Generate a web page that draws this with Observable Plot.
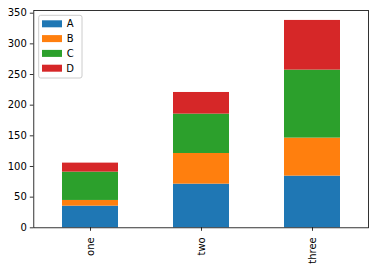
<!DOCTYPE html>
<html>
<head>
<meta charset="utf-8">
<script src="https://cdn.jsdelivr.net/npm/d3@7"></script>
<script src="https://cdn.jsdelivr.net/npm/@observablehq/plot@0.6"></script>
<style>
  html, body { margin: 0; padding: 0; background: white; }
</style>
</head>
<body>
<div id="chart"></div>
<script>
const categories = ["one", "two", "three"];
const seriesNames = ["A", "B", "C", "D"];
const A = [35.3, 71.2, 84.3];
const B = [9.3, 50.0, 62.0];
const C = [46.2, 64.2, 110.9];
const D = [14.7, 35.3, 81.0];
const seriesColors = ["#1f77b4", "#ff7f0e", "#2ca02c", "#d62728"];
const yTicks = [0, 50, 100, 150, 200, 250, 300, 350];

const seriesValues = [A, B, C, D];
const data = [];
seriesNames.forEach((s, si) => {
  categories.forEach((c, ci) => {
    data.push({category: c, series: s, value: seriesValues[si][ci]});
  });
});

const chart = Plot.plot({
  width: 378,
  height: 268,
  marginLeft: 33.3,
  marginRight: 10,
  marginTop: 10,
  marginBottom: 40.7,
  style: {fontFamily: "DejaVu Sans", fontSize: "10px", color: "black", background: "white", overflow: "visible"},
  x: {type: "band", domain: categories, paddingInner: 0.5, paddingOuter: 0.25, align: 0.5},
  y: {domain: [0, 354.4]},
  color: {domain: seriesNames, range: seriesColors},
  marks: [
    Plot.barY(data, {x: "category", y: "value", fill: "series"}),
    Plot.axisY({ticks: yTicks, tickSize: 3.5, tickPadding: 3.5, label: null, fontSize: 10, stroke: "black", strokeWidth: 0.8}),
    Plot.axisX({tickRotate: -90, tickSize: 3.5, tickPadding: 6, label: null, fontSize: 10, stroke: "black", strokeWidth: 0.8}),
    Plot.frame({stroke: "black", strokeWidth: 0.8})
  ]
});

document.getElementById("chart").appendChild(chart);

// Legend (upper left, matplotlib style)
const svg = d3.select(chart);
const lg = svg.append("g").attr("transform", "translate(38.7,15.3)");
lg.append("rect")
  .attr("x", 0).attr("y", 0).attr("width", 43.3).attr("height", 62.7)
  .attr("rx", 2).attr("ry", 2)
  .attr("fill", "white").attr("fill-opacity", 0.8)
  .attr("stroke", "#cccccc").attr("stroke-width", 1);
seriesNames.forEach((s, i) => {
  const cy = 8.5 + i * 14.8;
  lg.append("rect")
    .attr("x", 3.3).attr("y", cy - 3.5).attr("width", 20).attr("height", 7)
    .attr("fill", seriesColors[i]);
  lg.append("text")
    .attr("x", 31.5).attr("y", cy)
    .attr("dy", "0.35em")
    .attr("font-family", "DejaVu Sans").attr("font-size", 10)
    .attr("fill", "black")
    .text(s);
});
</script>
</body>
</html>
